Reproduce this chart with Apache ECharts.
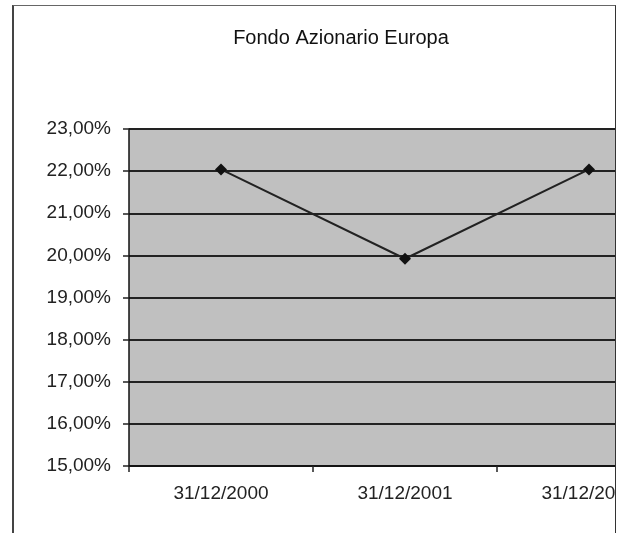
<!DOCTYPE html>
<html>
<head>
<meta charset="utf-8">
<script src="https://cdn.jsdelivr.net/npm/echarts@6/dist/echarts.min.js"></script>
<style>
html,body{margin:0;padding:0;background:#fff;width:620px;height:533px;overflow:hidden;}
#frame{position:absolute;left:12px;top:5px;width:601px;height:540px;border-left:2px solid #444;border-top:1px solid #666;border-right:1px solid #333;overflow:hidden;}
#chart{position:absolute;left:0;top:0;width:800px;height:540px;}
</style>
</head>
<body>
<div id="frame"><div id="chart"></div></div>
<script>
const title = "Fondo Azionario Europa";
const categories = ["31/12/2000", "31/12/2001", "31/12/2002"];
const values = [22.04, 19.92, 22.04];
const yMin = 15, yMax = 23, yStep = 1;

const chart = echarts.init(document.getElementById('chart'), null, {renderer: 'canvas'});
const fontFam = '"Liberation Sans", Arial, Helvetica, sans-serif';
chart.setOption({
  animation: false,
  title: {
    text: title,
    left: 322, top: 17, textAlign: 'center',
    textStyle: {fontFamily: fontFam, fontSize: 20, fontWeight: 'normal', color: '#111'}
  },
  grid: {
    left: 115, top: 123, width: 552, height: 337,
    show: true, backgroundColor: '#c0c0c0', borderWidth: 0
  },
  xAxis: {
    type: 'category',
    data: categories,
    boundaryGap: true,
    axisLine: {lineStyle: {color: '#111', width: 1.5}},
    axisTick: {show: true, length: 6, lineStyle: {color: '#222', width: 1.5}},
    axisLabel: {margin: 18, fontFamily: fontFam, fontSize: 19, color: '#222'},
    splitLine: {show: false}
  },
  yAxis: {
    type: 'value',
    min: yMin, max: yMax, interval: yStep,
    axisLine: {show: true, lineStyle: {color: '#111', width: 1.5}},
    axisTick: {show: true, length: 6, lineStyle: {color: '#222', width: 1.5}},
    axisLabel: {
      margin: 18, fontFamily: fontFam, fontSize: 19, color: '#222',
      formatter: v => v.toFixed(2).replace('.', ',') + '%'
    },
    splitLine: {show: true, lineStyle: {color: '#222', width: 2}}
  },
  series: [{
    type: 'line',
    data: values,
    symbol: 'diamond',
    symbolSize: 12,
    itemStyle: {color: '#111'},
    lineStyle: {color: '#222', width: 2},
    clip: false
  }]
});
</script>
</body>
</html>
